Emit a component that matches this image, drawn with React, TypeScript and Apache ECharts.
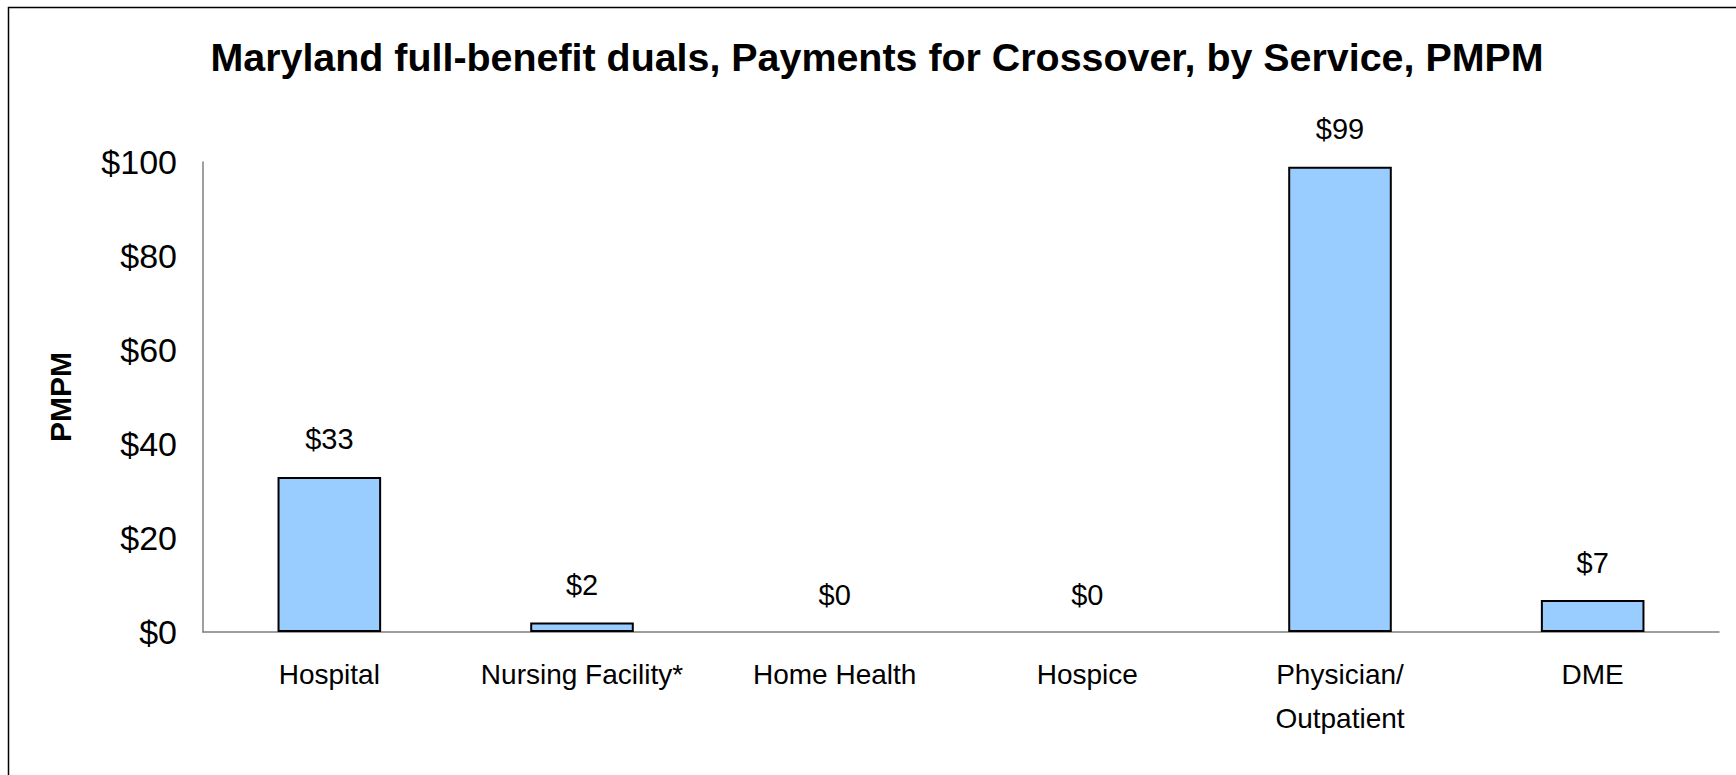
import React, { useEffect, useRef } from "react";
import * as echarts from "echarts";

const titleText = "Maryland full-benefit duals, Payments for Crossover, by Service, PMPM";
const categories = ["Hospital", "Nursing Facility*", "Home Health", "Hospice", "Physician/\nOutpatient", "DME"];
const pmpmValues = [33, 2, 0, 0, 99, 6.8];
const yTicks = [0, 20, 40, 60, 80, 100];

const FONT = "'Liberation Sans', Arial, Helvetica, sans-serif";

export default function App() {
  const ref = useRef<HTMLDivElement>(null);
  useEffect(() => {
    if (!ref.current) return;
    const chart = echarts.init(ref.current, undefined, { renderer: "svg" });
    chart.setOption({
      animation: false,
      backgroundColor: "#ffffff",
      textStyle: { fontFamily: FONT },
      title: {
        text: titleText,
        left: 872,
        top: 52,
        textAlign: "center",
        textVerticalAlign: "middle",
        textStyle: { fontFamily: FONT, fontSize: 39.4, fontWeight: "bold", color: "#000" },
      },
      graphic: [
        {
          type: "polyline",
          shape: { points: [[8.5, 775], [8.5, 7.5], [1736, 7.5]] },
          style: { stroke: "#000", lineWidth: 1.5, fill: null },
          silent: true,
        },
      ],
      grid: { left: 203, right: 17, top: 162, bottom: 143, containLabel: false },
      xAxis: {
        type: "category",
        data: categories,
        axisLine: { show: true, lineStyle: { color: "#7f7f7f", width: 1.5 } },
        axisTick: { show: false },
        axisLabel: {
          interval: 0,
          fontFamily: FONT,
          fontSize: 28,
          color: "#000",
          lineHeight: 44,
          margin: 20,
        },
      },
      yAxis: {
        type: "value",
        min: yTicks[0],
        max: yTicks[yTicks.length - 1],
        interval: yTicks[1] - yTicks[0],
        name: "PMPM",
        nameLocation: "middle",
        nameGap: 128,
        nameRotate: 90,
        nameTextStyle: { fontFamily: FONT, fontSize: 30, fontWeight: "bold", color: "#000" },
        axisLine: { show: true, lineStyle: { color: "#7f7f7f", width: 1.5 } },
        axisTick: { show: false },
        splitLine: { show: false },
        axisLabel: {
          fontFamily: FONT,
          fontSize: 34,
          color: "#000",
          margin: 26,
          formatter: (v: number) => "$" + v,
        },
      },
      series: [
        {
          type: "bar",
          barWidth: "41%",
          data: pmpmValues.map((v) => (v === 0 ? { value: v, itemStyle: { borderWidth: 0 } } : v)),
          itemStyle: { color: "#99CCFF", borderColor: "#000", borderWidth: 2 },
          label: {
            show: true,
            position: "top",
            distance: 23,
            fontFamily: FONT,
            fontSize: 29,
            color: "#000",
            formatter: (p: any) => "$" + Math.round(p.value),
          },
        },
      ],
    });
    return () => chart.dispose();
  }, []);
  return (
    <div
      ref={ref}
      style={{ position: "fixed", left: 0, top: 0, width: 1736, height: 775 }}
    />
  );
}
